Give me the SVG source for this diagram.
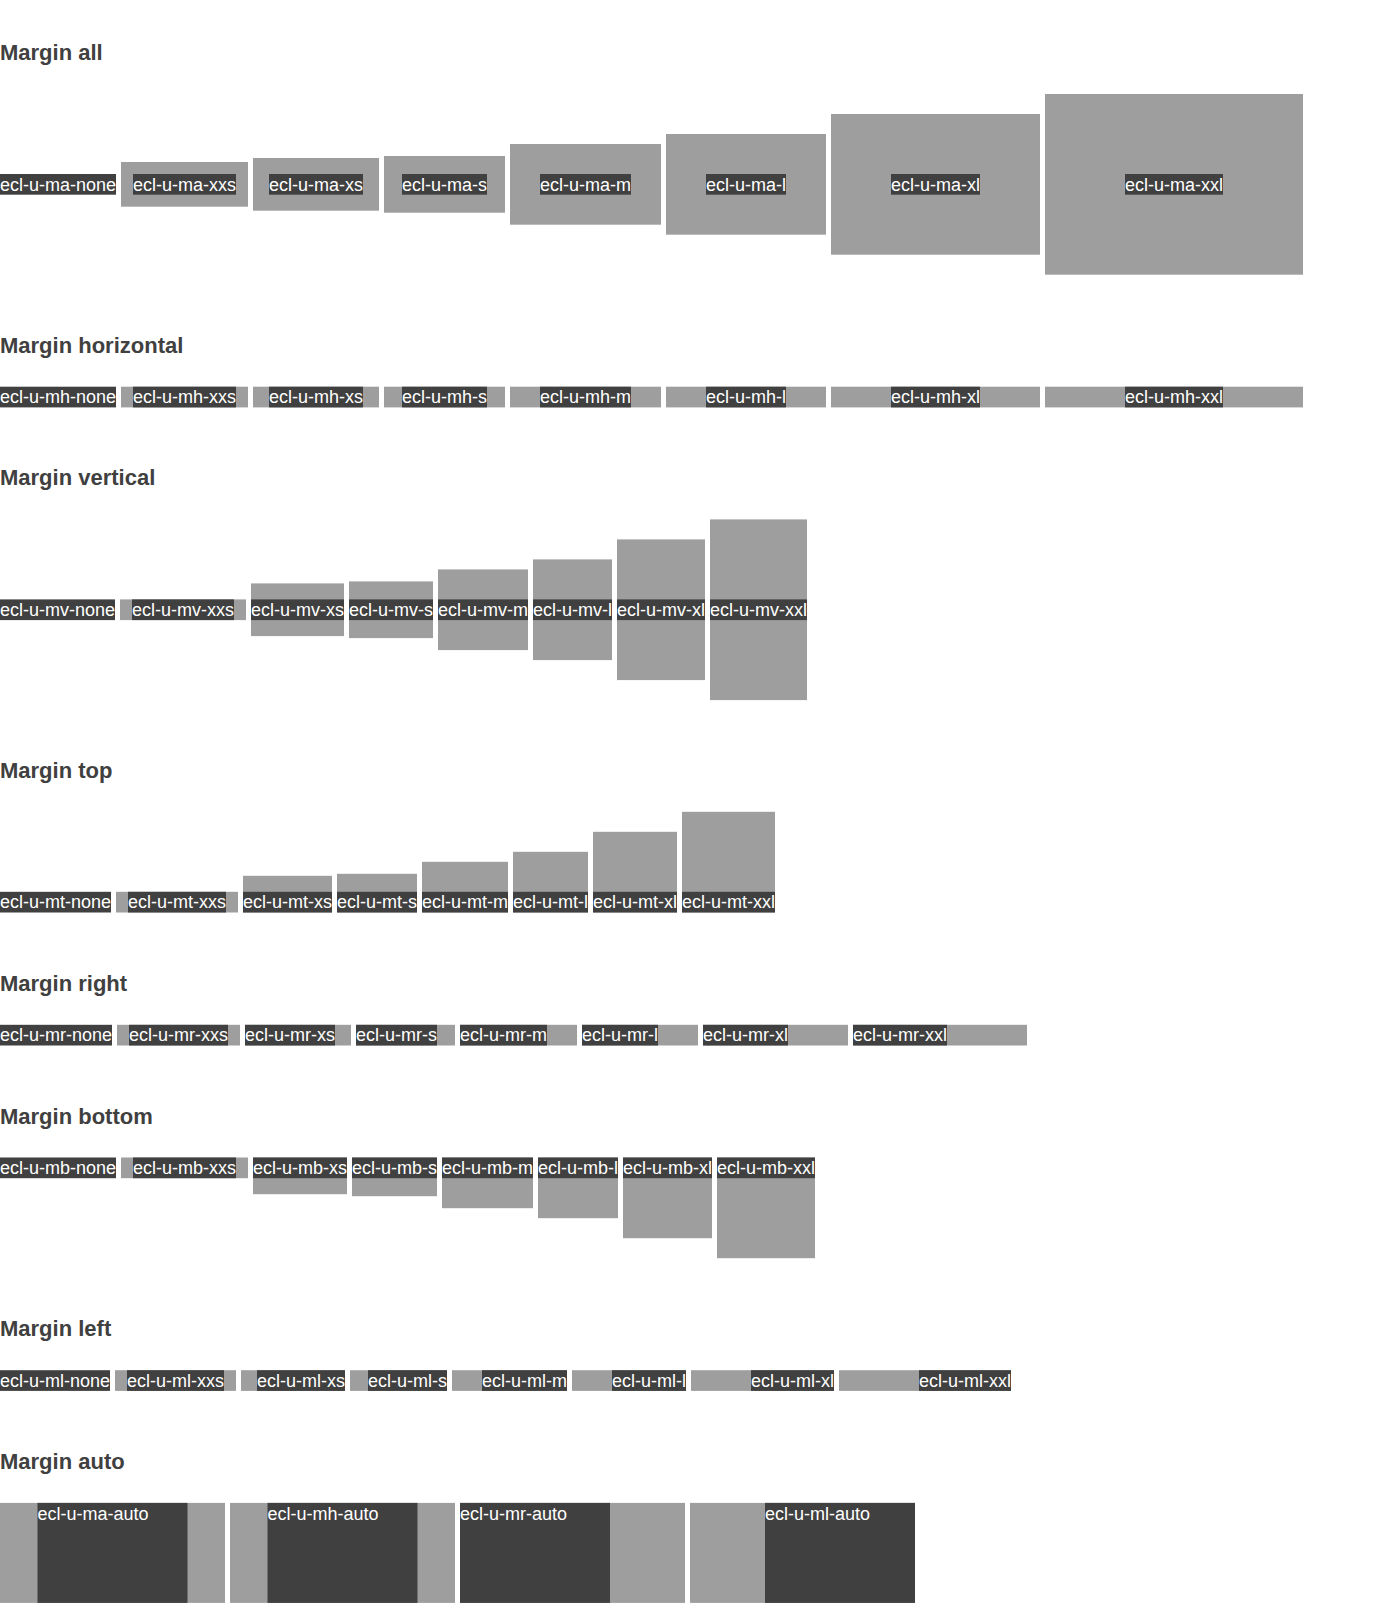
<svg xmlns="http://www.w3.org/2000/svg" width="1400" height="1621" viewBox="0 0 1400 1621">
  <style>
    .bg { fill: #ffffff; }
    .h { font-family: "Liberation Sans", Arial, sans-serif; font-size: 22px; font-weight: bold; fill: #404040; }
    .g { fill: #9e9e9e; }
    .d { fill: #404040; }
    .t { font-family: "Liberation Sans", Arial, sans-serif; font-size: 18px; fill: #ffffff; }
  </style>
  <rect class="bg" x="0" y="0" width="1400" height="1621"/>

  <!-- Margin all: label box 20.7 high, margin on every side -->
  <g id="margin-all">
    <text class="h" x="0" y="60">Margin all</text>
    <g id="ma-none"><rect class="d" x="0" y="174" width="116" height="20.7"/><text class="t" x="0" y="190.6">ecl-u-ma-none</text></g>
    <g id="ma-xxs"><rect class="g" x="121" y="162" width="127" height="44.7"/><rect class="d" x="133" y="174" width="103" height="20.7"/><text class="t" x="133" y="190.6">ecl-u-ma-xxs</text></g>
    <g id="ma-xs"><rect class="g" x="253" y="158" width="126" height="52.7"/><rect class="d" x="269" y="174" width="94" height="20.7"/><text class="t" x="269" y="190.6">ecl-u-ma-xs</text></g>
    <g id="ma-s"><rect class="g" x="384" y="156" width="121" height="56.7"/><rect class="d" x="402" y="174" width="85" height="20.7"/><text class="t" x="402" y="190.6">ecl-u-ma-s</text></g>
    <g id="ma-m"><rect class="g" x="510" y="144" width="151" height="80.7"/><rect class="d" x="540" y="174" width="91" height="20.7"/><text class="t" x="540" y="190.6">ecl-u-ma-m</text></g>
    <g id="ma-l"><rect class="g" x="666" y="134" width="160" height="100.7"/><rect class="d" x="706" y="174" width="80" height="20.7"/><text class="t" x="706" y="190.6">ecl-u-ma-l</text></g>
    <g id="ma-xl"><rect class="g" x="831" y="114" width="209" height="140.7"/><rect class="d" x="891" y="174" width="89" height="20.7"/><text class="t" x="891" y="190.6">ecl-u-ma-xl</text></g>
    <g id="ma-xxl"><rect class="g" x="1045" y="94" width="258" height="180.7"/><rect class="d" x="1125" y="174" width="98" height="20.7"/><text class="t" x="1125" y="190.6">ecl-u-ma-xxl</text></g>
  </g>

  <!-- Margin horizontal -->
  <g id="margin-horizontal">
    <text class="h" x="0" y="352.7">Margin horizontal</text>
    <g id="mh-none"><rect class="d" x="0" y="386.7" width="116" height="20.7"/><text class="t" x="0" y="403.3">ecl-u-mh-none</text></g>
    <g id="mh-xxs"><rect class="g" x="121" y="386.7" width="127" height="20.7"/><rect class="d" x="133" y="386.7" width="103" height="20.7"/><text class="t" x="133" y="403.3">ecl-u-mh-xxs</text></g>
    <g id="mh-xs"><rect class="g" x="253" y="386.7" width="126" height="20.7"/><rect class="d" x="269" y="386.7" width="94" height="20.7"/><text class="t" x="269" y="403.3">ecl-u-mh-xs</text></g>
    <g id="mh-s"><rect class="g" x="384" y="386.7" width="121" height="20.7"/><rect class="d" x="402" y="386.7" width="85" height="20.7"/><text class="t" x="402" y="403.3">ecl-u-mh-s</text></g>
    <g id="mh-m"><rect class="g" x="510" y="386.7" width="151" height="20.7"/><rect class="d" x="540" y="386.7" width="91" height="20.7"/><text class="t" x="540" y="403.3">ecl-u-mh-m</text></g>
    <g id="mh-l"><rect class="g" x="666" y="386.7" width="160" height="20.7"/><rect class="d" x="706" y="386.7" width="80" height="20.7"/><text class="t" x="706" y="403.3">ecl-u-mh-l</text></g>
    <g id="mh-xl"><rect class="g" x="831" y="386.7" width="209" height="20.7"/><rect class="d" x="891" y="386.7" width="89" height="20.7"/><text class="t" x="891" y="403.3">ecl-u-mh-xl</text></g>
    <g id="mh-xxl"><rect class="g" x="1045" y="386.7" width="258" height="20.7"/><rect class="d" x="1125" y="386.7" width="98" height="20.7"/><text class="t" x="1125" y="403.3">ecl-u-mh-xxl</text></g>
  </g>

  <!-- Margin vertical -->
  <g id="margin-vertical">
    <text class="h" x="0" y="485.4">Margin vertical</text>
    <g id="mv-none"><rect class="d" x="0" y="599.4" width="115" height="20.7"/><text class="t" x="0" y="616">ecl-u-mv-none</text></g>
    <g id="mv-xxs"><rect class="g" x="120" y="599.4" width="126" height="20.7"/><rect class="d" x="132" y="599.4" width="102" height="20.7"/><text class="t" x="132" y="616">ecl-u-mv-xxs</text></g>
    <g id="mv-xs"><rect class="g" x="251" y="583.4" width="93" height="52.7"/><rect class="d" x="251" y="599.4" width="93" height="20.7"/><text class="t" x="251" y="616">ecl-u-mv-xs</text></g>
    <g id="mv-s"><rect class="g" x="349" y="581.4" width="84" height="56.7"/><rect class="d" x="349" y="599.4" width="84" height="20.7"/><text class="t" x="349" y="616">ecl-u-mv-s</text></g>
    <g id="mv-m"><rect class="g" x="438" y="569.4" width="90" height="80.7"/><rect class="d" x="438" y="599.4" width="90" height="20.7"/><text class="t" x="438" y="616">ecl-u-mv-m</text></g>
    <g id="mv-l"><rect class="g" x="533" y="559.4" width="79" height="100.7"/><rect class="d" x="533" y="599.4" width="79" height="20.7"/><text class="t" x="533" y="616">ecl-u-mv-l</text></g>
    <g id="mv-xl"><rect class="g" x="617" y="539.4" width="88" height="140.7"/><rect class="d" x="617" y="599.4" width="88" height="20.7"/><text class="t" x="617" y="616">ecl-u-mv-xl</text></g>
    <g id="mv-xxl"><rect class="g" x="710" y="519.4" width="97" height="180.7"/><rect class="d" x="710" y="599.4" width="97" height="20.7"/><text class="t" x="710" y="616">ecl-u-mv-xxl</text></g>
  </g>

  <!-- Margin top -->
  <g id="margin-top">
    <text class="h" x="0" y="778.1">Margin top</text>
    <g id="mt-none"><rect class="d" x="0" y="891.8" width="111" height="20.7"/><text class="t" x="0" y="908.4">ecl-u-mt-none</text></g>
    <g id="mt-xxs"><rect class="g" x="116" y="891.8" width="122" height="20.7"/><rect class="d" x="128" y="891.8" width="98" height="20.7"/><text class="t" x="128" y="908.4">ecl-u-mt-xxs</text></g>
    <g id="mt-xs"><rect class="g" x="243" y="875.8" width="89" height="36.7"/><rect class="d" x="243" y="891.8" width="89" height="20.7"/><text class="t" x="243" y="908.4">ecl-u-mt-xs</text></g>
    <g id="mt-s"><rect class="g" x="337" y="873.8" width="80" height="38.7"/><rect class="d" x="337" y="891.8" width="80" height="20.7"/><text class="t" x="337" y="908.4">ecl-u-mt-s</text></g>
    <g id="mt-m"><rect class="g" x="422" y="861.8" width="86" height="50.7"/><rect class="d" x="422" y="891.8" width="86" height="20.7"/><text class="t" x="422" y="908.4">ecl-u-mt-m</text></g>
    <g id="mt-l"><rect class="g" x="513" y="851.8" width="75" height="60.7"/><rect class="d" x="513" y="891.8" width="75" height="20.7"/><text class="t" x="513" y="908.4">ecl-u-mt-l</text></g>
    <g id="mt-xl"><rect class="g" x="593" y="831.8" width="84" height="80.7"/><rect class="d" x="593" y="891.8" width="84" height="20.7"/><text class="t" x="593" y="908.4">ecl-u-mt-xl</text></g>
    <g id="mt-xxl"><rect class="g" x="682" y="811.8" width="93" height="100.7"/><rect class="d" x="682" y="891.8" width="93" height="20.7"/><text class="t" x="682" y="908.4">ecl-u-mt-xxl</text></g>
  </g>

  <!-- Margin right -->
  <g id="margin-right">
    <text class="h" x="0" y="990.8">Margin right</text>
    <g id="mr-none"><rect class="d" x="0" y="1024.8" width="112" height="20.7"/><text class="t" x="0" y="1041.4">ecl-u-mr-none</text></g>
    <g id="mr-xxs"><rect class="g" x="117" y="1024.8" width="123" height="20.7"/><rect class="d" x="129" y="1024.8" width="99" height="20.7"/><text class="t" x="129" y="1041.4">ecl-u-mr-xxs</text></g>
    <g id="mr-xs"><rect class="g" x="245" y="1024.8" width="106" height="20.7"/><rect class="d" x="245" y="1024.8" width="90" height="20.7"/><text class="t" x="245" y="1041.4">ecl-u-mr-xs</text></g>
    <g id="mr-s"><rect class="g" x="356" y="1024.8" width="99" height="20.7"/><rect class="d" x="356" y="1024.8" width="81" height="20.7"/><text class="t" x="356" y="1041.4">ecl-u-mr-s</text></g>
    <g id="mr-m"><rect class="g" x="460" y="1024.8" width="117" height="20.7"/><rect class="d" x="460" y="1024.8" width="87" height="20.7"/><text class="t" x="460" y="1041.4">ecl-u-mr-m</text></g>
    <g id="mr-l"><rect class="g" x="582" y="1024.8" width="116" height="20.7"/><rect class="d" x="582" y="1024.8" width="76" height="20.7"/><text class="t" x="582" y="1041.4">ecl-u-mr-l</text></g>
    <g id="mr-xl"><rect class="g" x="703" y="1024.8" width="145" height="20.7"/><rect class="d" x="703" y="1024.8" width="85" height="20.7"/><text class="t" x="703" y="1041.4">ecl-u-mr-xl</text></g>
    <g id="mr-xxl"><rect class="g" x="853" y="1024.8" width="174" height="20.7"/><rect class="d" x="853" y="1024.8" width="94" height="20.7"/><text class="t" x="853" y="1041.4">ecl-u-mr-xxl</text></g>
  </g>

  <!-- Margin bottom -->
  <g id="margin-bottom">
    <text class="h" x="0" y="1123.5">Margin bottom</text>
    <g id="mb-none"><rect class="d" x="0" y="1157.5" width="116" height="20.7"/><text class="t" x="0" y="1174.1">ecl-u-mb-none</text></g>
    <g id="mb-xxs"><rect class="g" x="121" y="1157.5" width="127" height="20.7"/><rect class="d" x="133" y="1157.5" width="103" height="20.7"/><text class="t" x="133" y="1174.1">ecl-u-mb-xxs</text></g>
    <g id="mb-xs"><rect class="g" x="253" y="1157.5" width="94" height="36.7"/><rect class="d" x="253" y="1157.5" width="94" height="20.7"/><text class="t" x="253" y="1174.1">ecl-u-mb-xs</text></g>
    <g id="mb-s"><rect class="g" x="352" y="1157.5" width="85" height="38.7"/><rect class="d" x="352" y="1157.5" width="85" height="20.7"/><text class="t" x="352" y="1174.1">ecl-u-mb-s</text></g>
    <g id="mb-m"><rect class="g" x="442" y="1157.5" width="91" height="50.7"/><rect class="d" x="442" y="1157.5" width="91" height="20.7"/><text class="t" x="442" y="1174.1">ecl-u-mb-m</text></g>
    <g id="mb-l"><rect class="g" x="538" y="1157.5" width="80" height="60.7"/><rect class="d" x="538" y="1157.5" width="80" height="20.7"/><text class="t" x="538" y="1174.1">ecl-u-mb-l</text></g>
    <g id="mb-xl"><rect class="g" x="623" y="1157.5" width="89" height="80.7"/><rect class="d" x="623" y="1157.5" width="89" height="20.7"/><text class="t" x="623" y="1174.1">ecl-u-mb-xl</text></g>
    <g id="mb-xxl"><rect class="g" x="717" y="1157.5" width="98" height="100.7"/><rect class="d" x="717" y="1157.5" width="98" height="20.7"/><text class="t" x="717" y="1174.1">ecl-u-mb-xxl</text></g>
  </g>

  <!-- Margin left -->
  <g id="margin-left">
    <text class="h" x="0" y="1336.2">Margin left</text>
    <g id="ml-none"><rect class="d" x="0" y="1370.2" width="110" height="20.7"/><text class="t" x="0" y="1386.8">ecl-u-ml-none</text></g>
    <g id="ml-xxs"><rect class="g" x="115" y="1370.2" width="121" height="20.7"/><rect class="d" x="127" y="1370.2" width="97" height="20.7"/><text class="t" x="127" y="1386.8">ecl-u-ml-xxs</text></g>
    <g id="ml-xs"><rect class="g" x="241" y="1370.2" width="104" height="20.7"/><rect class="d" x="257" y="1370.2" width="88" height="20.7"/><text class="t" x="257" y="1386.8">ecl-u-ml-xs</text></g>
    <g id="ml-s"><rect class="g" x="350" y="1370.2" width="97" height="20.7"/><rect class="d" x="368" y="1370.2" width="79" height="20.7"/><text class="t" x="368" y="1386.8">ecl-u-ml-s</text></g>
    <g id="ml-m"><rect class="g" x="452" y="1370.2" width="115" height="20.7"/><rect class="d" x="482" y="1370.2" width="85" height="20.7"/><text class="t" x="482" y="1386.8">ecl-u-ml-m</text></g>
    <g id="ml-l"><rect class="g" x="572" y="1370.2" width="114" height="20.7"/><rect class="d" x="612" y="1370.2" width="74" height="20.7"/><text class="t" x="612" y="1386.8">ecl-u-ml-l</text></g>
    <g id="ml-xl"><rect class="g" x="691" y="1370.2" width="143" height="20.7"/><rect class="d" x="751" y="1370.2" width="83" height="20.7"/><text class="t" x="751" y="1386.8">ecl-u-ml-xl</text></g>
    <g id="ml-xxl"><rect class="g" x="839" y="1370.2" width="172" height="20.7"/><rect class="d" x="919" y="1370.2" width="92" height="20.7"/><text class="t" x="919" y="1386.8">ecl-u-ml-xxl</text></g>
  </g>

  <!-- Margin auto: 150px block inside a 225px container -->
  <g id="margin-auto">
    <text class="h" x="0" y="1468.9">Margin auto</text>
    <g id="ma-auto"><rect class="g" x="0" y="1502.9" width="225" height="100"/><rect class="d" x="37.5" y="1502.9" width="150" height="100"/><text class="t" x="37.5" y="1519.5">ecl-u-ma-auto</text></g>
    <g id="mh-auto"><rect class="g" x="230" y="1502.9" width="225" height="100"/><rect class="d" x="267.5" y="1502.9" width="150" height="100"/><text class="t" x="267.5" y="1519.5">ecl-u-mh-auto</text></g>
    <g id="mr-auto"><rect class="g" x="460" y="1502.9" width="225" height="100"/><rect class="d" x="460" y="1502.9" width="150" height="100"/><text class="t" x="460" y="1519.5">ecl-u-mr-auto</text></g>
    <g id="ml-auto"><rect class="g" x="690" y="1502.9" width="225" height="100"/><rect class="d" x="765" y="1502.9" width="150" height="100"/><text class="t" x="765" y="1519.5">ecl-u-ml-auto</text></g>
  </g>
</svg>
